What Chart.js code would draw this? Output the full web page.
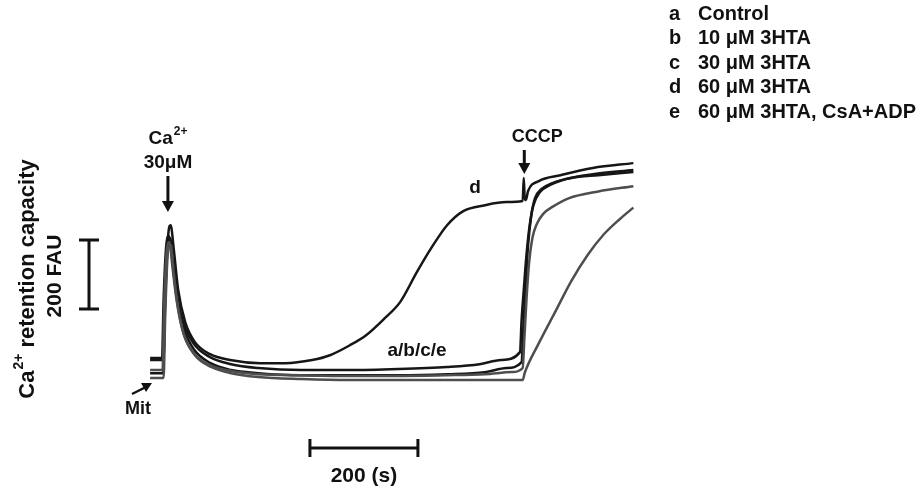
<!DOCTYPE html>
<html>
<head>
<meta charset="utf-8">
<script src="https://cdn.jsdelivr.net/npm/chart.js@4"></script>
<style>
  body { margin: 0; background: #fff; }
  #wrap { width: 919px; height: 488px; position: relative; }
</style>
</head>
<body>
<div id="wrap"><canvas id="trace"></canvas></div>
<script>
// time in seconds, fluorescence in FAU (arbitrary zero)
const timeA = [0, 22, 25, 30, 35, 40, 48, 60, 80, 110, 150, 200, 280, 370, 460, 550, 610, 650, 685, 688, 692, 697, 703, 710, 722, 740, 770, 820, 895];
const fauA  = [116, 116, 290, 449, 476, 420, 319, 232, 165, 125, 104, 93, 87, 87, 90, 96, 104, 116, 139, 232, 319, 420, 507, 565, 603, 623, 641, 655, 667];

const timeB = [0, 24, 27, 32, 37, 42, 50, 62, 82, 112, 150, 200, 280, 370, 460, 550, 620, 660, 688, 691, 695, 700, 706, 713, 725, 745, 780, 830, 895];
const fauB  = [78, 78, 261, 435, 470, 400, 296, 209, 145, 107, 87, 78, 72, 72, 72, 75, 81, 93, 110, 203, 319, 449, 536, 586, 612, 629, 644, 652, 661];

const timeC = [0, 23, 26, 31, 36, 41, 49, 61, 81, 111, 150, 200, 280, 370, 460, 550, 620, 670, 690, 693, 697, 702, 708, 716, 728, 745, 775, 830, 895];
const fauC  = [87, 87, 275, 435, 458, 391, 290, 197, 136, 101, 84, 75, 72, 70, 70, 72, 75, 81, 93, 174, 290, 400, 470, 510, 540, 560, 585, 605, 620];

const timeD = [0, 25, 28, 34, 38, 44, 52, 65, 83, 111, 148, 204, 250, 300, 333, 370, 400, 435, 463, 494, 522, 550, 580, 620, 660, 690, 692, 694, 696, 700, 720, 760, 820, 895];
const fauD  = [122, 122, 290, 487, 507, 435, 319, 226, 168, 133, 116, 107, 107, 116, 130, 159, 188, 238, 284, 371, 444, 507, 548, 565, 574, 577, 644, 580, 580, 606, 635, 652, 673, 687];

const timeE = [0, 25, 28, 33, 38, 43, 51, 63, 83, 113, 150, 200, 280, 370, 460, 550, 640, 690, 694, 720, 750, 780, 810, 840, 870, 895];
const fauE  = [64, 64, 246, 429, 450, 377, 275, 188, 130, 96, 78, 67, 61, 58, 58, 58, 58, 58, 80, 165, 255, 345, 420, 480, 525, 558];

const legendKeys = ["a", "b", "c", "d", "e"];
const legendNames = ["Control", "10 \u03bcM 3HTA", "30 \u03bcM 3HTA", "60 \u03bcM 3HTA", "60 \u03bcM 3HTA, CsA+ADP"];

const caTime = 33;
const cccpTime = 693;
const timeBar = [296, 496];   // 200 s
const fauBar = [264, 464];    // 200 FAU

const BLACK = "#161616";
const GRAY = "#4e4e4e";
const FONT = '"Liberation Sans", Arial, sans-serif';

function pts(t, f) {
    return t.map((x, i) => ({ x: x, y: f[i] }));
}

function trace(t, f, color) {
    return {
        data: pts(t, f),
        borderColor: color,
        borderWidth: 2.5,
        pointRadius: 0,
        fill: false,
        cubicInterpolationMode: "monotone"
    };
}

function arrowDown(ctx, x, y1, y2) {
    ctx.beginPath();
    ctx.moveTo(x, y1);
    ctx.lineTo(x, y2 - 9);
    ctx.lineWidth = 3;
    ctx.stroke();
    ctx.beginPath();
    ctx.moveTo(x - 6, y2 - 11);
    ctx.lineTo(x + 6, y2 - 11);
    ctx.lineTo(x, y2);
    ctx.closePath();
    ctx.fill();
}

// text with a raised "2+" after "Ca", left aligned at sx
function caText(ctx, sx, y, big, small, rest) {
    ctx.font = "bold " + big + "px " + FONT;
    const w1 = ctx.measureText("Ca").width;
    ctx.fillText("Ca", sx, y);
    ctx.font = "bold " + small + "px " + FONT;
    const w2 = ctx.measureText("2+").width;
    ctx.fillText("2+", sx + w1 + 1, y - big * 0.38);
    ctx.font = "bold " + big + "px " + FONT;
    ctx.fillText(rest, sx + w1 + w2 + 1, y);
}

function caWidth(ctx, big, small, rest) {
    ctx.font = "bold " + big + "px " + FONT;
    const w1 = ctx.measureText("Ca").width + ctx.measureText(rest).width;
    ctx.font = "bold " + small + "px " + FONT;
    return w1 + ctx.measureText("2+").width + 1;
}

// labels, arrows and scale bars
const annotations = {
    id: "annotations",
    afterDraw(chart) {
        const ctx = chart.ctx;
        const xs = chart.scales.x;
        const ys = chart.scales.y;
        ctx.save();
        ctx.fillStyle = "#111";
        ctx.strokeStyle = "#111";
        ctx.textAlign = "center";
        ctx.textBaseline = "middle";

        // Ca2+ addition
        const xCa = xs.getPixelForValue(caTime);
        ctx.textAlign = "left";
        const wc = caWidth(ctx, 19, 12, "");
        caText(ctx, xCa - wc / 2, 139, 19, 12, "");
        ctx.textAlign = "center";
        ctx.font = "bold 19px " + FONT;
        ctx.fillText("30\u03bcM", xCa, 163);
        arrowDown(ctx, xCa, 176, 212);

        // CCCP
        const xC = xs.getPixelForValue(cccpTime);
        ctx.font = "bold 18px " + FONT;
        ctx.fillText("CCCP", xC + 13, 137);
        arrowDown(ctx, xC, 150, 174);

        // trace labels
        ctx.font = "bold 19px " + FONT;
        ctx.fillText("d", 475, 188);
        ctx.fillText("a/b/c/e", 417, 351);
        ctx.font = "bold 18px " + FONT;
        ctx.fillText("Mit", 138, 409);

        // Mit arrow
        ctx.lineWidth = 2.5;
        ctx.beginPath();
        ctx.moveTo(132, 394);
        ctx.lineTo(146, 387);
        ctx.stroke();
        ctx.beginPath();
        ctx.moveTo(152, 383);
        ctx.lineTo(141, 383);
        ctx.lineTo(146, 392);
        ctx.closePath();
        ctx.fill();

        // time scale bar
        const bx1 = xs.getPixelForValue(timeBar[0]);
        const bx2 = xs.getPixelForValue(timeBar[1]);
        ctx.lineWidth = 3;
        ctx.beginPath();
        ctx.moveTo(bx1, 448); ctx.lineTo(bx2, 448);
        ctx.moveTo(bx1, 439); ctx.lineTo(bx1, 457);
        ctx.moveTo(bx2, 439); ctx.lineTo(bx2, 457);
        ctx.stroke();
        ctx.font = "bold 21px " + FONT;
        ctx.fillText("200 (s)", (bx1 + bx2) / 2, 476);

        // FAU scale bar
        const fy1 = ys.getPixelForValue(fauBar[0]);
        const fy2 = ys.getPixelForValue(fauBar[1]);
        const fx = 89;
        ctx.beginPath();
        ctx.moveTo(fx, fy1); ctx.lineTo(fx, fy2);
        ctx.moveTo(fx - 10, fy1); ctx.lineTo(fx + 10, fy1);
        ctx.moveTo(fx - 10, fy2); ctx.lineTo(fx + 10, fy2);
        ctx.stroke();

        // vertical titles
        ctx.save();
        ctx.translate(28, 279);
        ctx.rotate(-Math.PI / 2);
        ctx.textAlign = "left";
        const wt = caWidth(ctx, 22, 14, " retention capacity");
        caText(ctx, -wt / 2, 0, 22, 14, " retention capacity");
        ctx.restore();

        ctx.save();
        ctx.translate(55, 276);
        ctx.rotate(-Math.PI / 2);
        ctx.font = "bold 21px " + FONT;
        ctx.fillText("200 FAU", 0, 0);
        ctx.restore();

        // legend
        ctx.textAlign = "left";
        ctx.font = "bold 20px " + FONT;
        legendKeys.forEach((k, i) => {
            const y = 14 + i * 24.5;
            ctx.fillText(k, 669, y);
            ctx.fillText(legendNames[i], 698, y);
        });

        ctx.restore();
    }
};

const ctx = document.getElementById("trace").getContext("2d");
new Chart(ctx, {
    type: "line",
    data: {
        datasets: [
            trace(timeE, fauE, GRAY),
            trace(timeC, fauC, GRAY),
            trace(timeB, fauB, BLACK),
            trace(timeA, fauA, BLACK),
            trace(timeD, fauD, BLACK)
        ]
    },
    options: {
        responsive: true,
        maintainAspectRatio: false,
        animation: false,
        layout: { padding: 0 },
        plugins: {
            legend: { display: false },
            tooltip: { enabled: false }
        },
        scales: {
            x: { type: "linear", min: -278, max: 1424, display: false },
            y: { type: "linear", min: -255, max: 1160, display: false }
        }
    },
    plugins: [annotations]
});
</script>
</body>
</html>
